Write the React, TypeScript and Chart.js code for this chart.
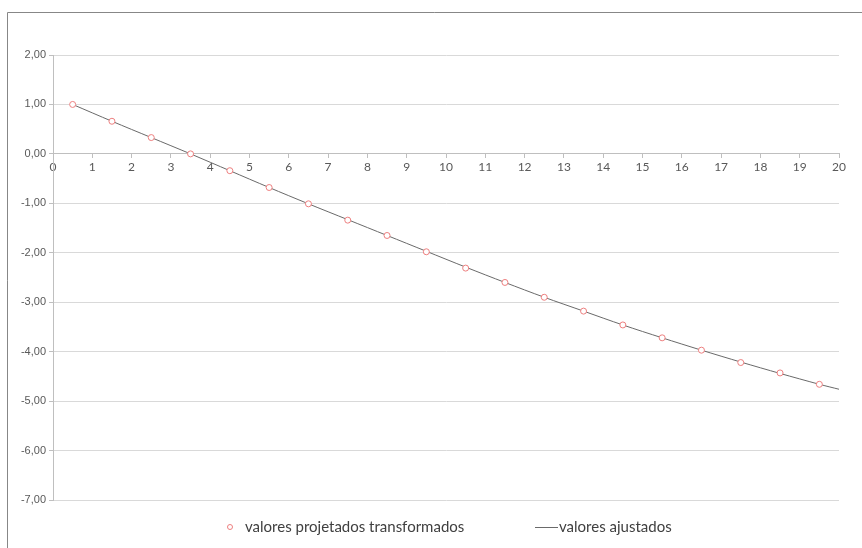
import React, { useEffect, useRef } from "react";
import { Chart, registerables } from "chart.js";

Chart.register(...registerables);

const xValues = [0.5, 1.5, 2.5, 3.5, 4.5, 5.5, 6.5, 7.5, 8.5, 9.5, 10.5, 11.5, 12.5, 13.5, 14.5, 15.5, 16.5, 17.5, 18.5, 19.5];
const projetados = [1.0, 0.66, 0.33, 0.0, -0.34, -0.68, -1.01, -1.34, -1.65, -1.98, -2.31, -2.6, -2.9, -3.18, -3.46, -3.72, -3.97, -4.22, -4.43, -4.66];
const fittedX = [0.5, 1.5, 2.5, 3.5, 4.5, 5.5, 6.5, 7.5, 8.5, 9.5, 10.5, 11.5, 12.5, 13.5, 14.5, 15.5, 16.5, 17.5, 18.5, 19.5, 20];
const ajustados = [1.0, 0.66, 0.33, 0.0, -0.34, -0.68, -1.01, -1.33, -1.65, -1.97, -2.29, -2.6, -2.9, -3.18, -3.46, -3.72, -3.97, -4.21, -4.44, -4.66, -4.76];
const seriesNames = ["valores projetados transformados", "valores ajustados"];
const xMin = 0, xMax = 20, yMin = -7, yMax = 2;

const POINT_COLOR = "#ee8080";
const LINE_COLOR = "#6a6a6a";

const framePlugin = {
  id: "frame",
  beforeDraw(chart: any) {
    const ctx = chart.ctx;
    ctx.save();
    ctx.fillStyle = "#ffffff";
    ctx.fillRect(0, 0, chart.width, chart.height);
    ctx.strokeStyle = "#878787";
    ctx.lineWidth = 1;
    ctx.beginPath();
    ctx.moveTo(7.5, chart.height);
    ctx.lineTo(7.5, 12.5);
    ctx.lineTo(chart.width, 12.5);
    ctx.stroke();
    ctx.restore();
  },
};

const legendPlugin = {
  id: "customLegend",
  afterDraw(chart: any) {
    const ctx = chart.ctx;
    const y = 527;
    ctx.save();
    ctx.font = "15px Lato";
    ctx.fillStyle = "#404040";
    ctx.textBaseline = "middle";
    // item 1: point marker
    ctx.beginPath();
    ctx.arc(230, y, 2.5, 0, Math.PI * 2);
    ctx.strokeStyle = POINT_COLOR;
    ctx.lineWidth = 1;
    ctx.stroke();
    ctx.fillText(chart.data.datasets[0].label, 245, y);
    // item 2: line marker
    ctx.beginPath();
    ctx.moveTo(535, y + 0.5);
    ctx.lineTo(558, y + 0.5);
    ctx.strokeStyle = LINE_COLOR;
    ctx.stroke();
    ctx.fillText(chart.data.datasets[1].label, 559, y);
    ctx.restore();
  },
};

export default function App() {
  const ref = useRef<HTMLCanvasElement>(null);
  useEffect(() => {
    if (!ref.current) return;
    const chart = new Chart(ref.current, {
      type: "scatter",
      data: {
        datasets: [
          {
            label: seriesNames[0],
            data: xValues.map((x, i) => ({ x, y: projetados[i] })),
            showLine: false,
            pointStyle: "circle",
            pointRadius: 3,
            pointBorderWidth: 1,
            pointBorderColor: POINT_COLOR,
            pointBackgroundColor: "#ffffff",
            borderColor: POINT_COLOR,
            backgroundColor: "#ffffff",
          },
          {
            label: seriesNames[1],
            data: fittedX.map((x, i) => ({ x, y: ajustados[i] })),
            showLine: true,
            pointRadius: 0,
            borderColor: LINE_COLOR,
            borderWidth: 1,
            backgroundColor: LINE_COLOR,
            tension: 0.3,
          },
        ],
      },
      options: {
        animation: false,
        responsive: false,
        maintainAspectRatio: false,
        layout: { padding: { top: 55, right: 23, bottom: 48, left: 0 } },
        plugins: {
          legend: { display: false },
          tooltip: { enabled: false },
        },
        scales: {
          x: {
            type: "linear",
            position: { y: 0 } as any,
            min: xMin,
            max: xMax,
            ticks: {
              stepSize: 1,
              color: "#595959",
              font: { family: "Lato", size: 12 },
              padding: 2,
              maxRotation: 0,
            },
            grid: {
              drawOnChartArea: false,
              drawTicks: true,
              tickLength: 4,
              color: "#bfbfbf",
            },
            border: { color: "#bfbfbf" },
          },
          y: {
            type: "linear",
            min: yMin,
            max: yMax,
            afterFit(scale: any) {
              scale.width = 53;
            },
            ticks: {
              stepSize: 1,
              color: "#595959",
              font: { family: "Liberation Sans", size: 11 },
              padding: 3,
              callback: (v: any) => Number(v).toFixed(2).replace(".", ","),
            },
            grid: {
              color: "#d9d9d9",
              tickLength: 4,
              tickColor: "#bfbfbf",
            },
            border: { color: "#bfbfbf" },
          },
        },
      },
      plugins: [framePlugin, legendPlugin],
    });
    return () => chart.destroy();
  }, []);
  return (
    <div style={{ position: "absolute", left: 0, top: 0, width: 862, height: 548 }}>
      <canvas ref={ref} width={862} height={548} style={{ width: 862, height: 548, display: "block" }} />
    </div>
  );
}
